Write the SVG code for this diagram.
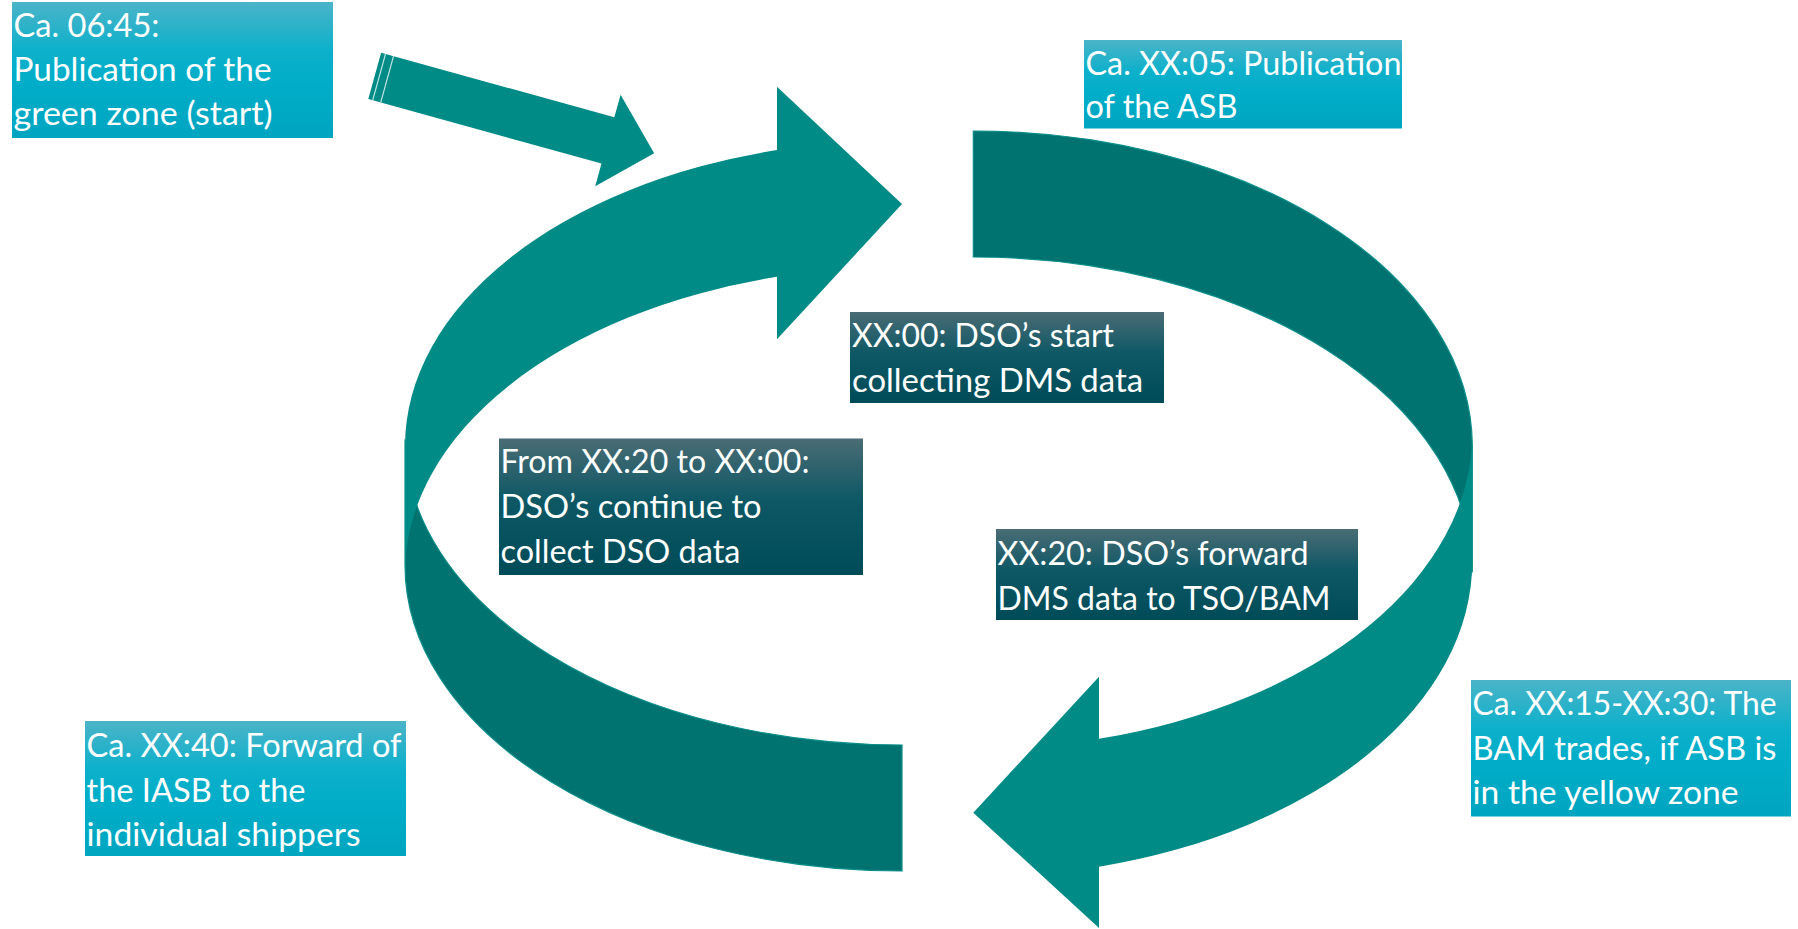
<svg xmlns="http://www.w3.org/2000/svg" width="1798" height="929" viewBox="0 0 1798 929">
  <defs>
    <linearGradient id="gCyan" x1="0" y1="0" x2="0" y2="1">
      <stop offset="0" stop-color="#4BB4C8"/>
      <stop offset="0.35" stop-color="#0EB0CB"/>
      <stop offset="0.6" stop-color="#00ADC8"/>
      <stop offset="1" stop-color="#00A5C0"/>
    </linearGradient>
    <linearGradient id="gDark" x1="0" y1="0" x2="0" y2="1">
      <stop offset="0" stop-color="#4A6C74"/>
      <stop offset="0.45" stop-color="#0E5866"/>
      <stop offset="1" stop-color="#004B58"/>
    </linearGradient>
    <style>
      .light { fill: #018B87; }
      .dark { fill: #00726F; stroke: #0A8E8A; stroke-width: 1.2; }
      .cyan { fill: url(#gCyan); }
      .slate { fill: url(#gDark); }
      .lbl { font-family: Lato, "Open Sans", "Liberation Sans", sans-serif; font-size: 33px; fill: #FFFFFF; }
      .gap { fill: #BFE6E4; }
    </style>
  </defs>

  <!-- cycle arrows and start arrow -->
  <g id="connectors">
    <!-- left half: dark back band, then light band with head pointing right -->
    <path class="dark" d="M405,439.2 A497,305.8 0 0 0 902,745 L902,871 A497,305.8 0 0 1 405,565.2 Z"/>
    <path class="light" d="M405,446 A497,305.8 0 0 1 777,150 L777,86.7 L902,204 L777,339.3 L777,276.8 A497,305.8 0 0 0 405,572.8 Z"/>
    <!-- right half: dark back band, then light band with head pointing left -->
    <path class="dark" d="M1472.3,572.6 A499,315.6 0 0 0 973.3,257 L973.3,131 A499,315.6 0 0 1 1472.3,446.6 Z"/>
    <path class="light" d="M1472.3,561.3 A499,315.6 0 0 1 1099,866.7 L1099,928 L973.3,812.7 L1099,676.7 L1099,738.8 A499,315.6 0 0 0 1472.3,433.4 Z"/>
    <!-- striped start arrow -->
    <g transform="translate(374.7,75.8) rotate(15.5)">
      <path class="light" d="M0,-24 L242,-24 L242,-47.5 L290,0 L242,47.5 L242,24 L0,24 Z"/>
      <rect class="gap" x="4" y="-24" width="1.2" height="48"/>
      <rect class="gap" x="12.3" y="-24" width="1.2" height="48"/>
    </g>
  </g>

  <g id="n-green-zone">
    <rect class="cyan" x="12" y="2" width="321" height="136"/>
    <text class="lbl" x="13.5" y="36.5" textLength="146" lengthAdjust="spacingAndGlyphs">Ca. 06:45:</text>
    <text class="lbl" x="13.5" y="80.8" textLength="258" lengthAdjust="spacingAndGlyphs">Publication of the</text>
    <text class="lbl" x="13.5" y="125" textLength="259" lengthAdjust="spacingAndGlyphs">green zone (start)</text>
  </g>

  <g id="n-asb">
    <rect class="cyan" x="1084" y="40" width="318" height="88.5"/>
    <text class="lbl" x="1085.5" y="74.7" textLength="316" lengthAdjust="spacingAndGlyphs">Ca. XX:05: Publication</text>
    <text class="lbl" x="1085.5" y="118.3" textLength="152" lengthAdjust="spacingAndGlyphs">of the ASB</text>
  </g>

  <g id="n-dso-start">
    <rect class="slate" x="850" y="312" width="314" height="91"/>
    <text class="lbl" x="852" y="347" textLength="262" lengthAdjust="spacingAndGlyphs">XX:00: DSO’s start</text>
    <text class="lbl" x="852" y="391.5" textLength="291" lengthAdjust="spacingAndGlyphs">collecting DMS data</text>
  </g>

  <g id="n-dso-continue">
    <rect class="slate" x="499" y="438.5" width="364" height="136.5"/>
    <text class="lbl" x="500.5" y="473.3" textLength="309" lengthAdjust="spacingAndGlyphs">From XX:20 to XX:00:</text>
    <text class="lbl" x="500.5" y="518.3" textLength="261" lengthAdjust="spacingAndGlyphs">DSO’s continue to</text>
    <text class="lbl" x="500.5" y="563" textLength="240" lengthAdjust="spacingAndGlyphs">collect DSO data</text>
  </g>

  <g id="n-dso-forward">
    <rect class="slate" x="996" y="529" width="362" height="91"/>
    <text class="lbl" x="997.5" y="565" textLength="311" lengthAdjust="spacingAndGlyphs">XX:20: DSO’s forward</text>
    <text class="lbl" x="997.5" y="609.5" textLength="333" lengthAdjust="spacingAndGlyphs">DMS data to TSO/BAM</text>
  </g>

  <g id="n-bam-trades">
    <rect class="cyan" x="1471" y="680" width="320" height="136.5"/>
    <text class="lbl" x="1472.5" y="715" textLength="304" lengthAdjust="spacingAndGlyphs">Ca. XX:15-XX:30: The</text>
    <text class="lbl" x="1472.5" y="759.5" textLength="304" lengthAdjust="spacingAndGlyphs">BAM trades, if ASB is</text>
    <text class="lbl" x="1472.5" y="804" textLength="266" lengthAdjust="spacingAndGlyphs">in the yellow zone</text>
  </g>

  <g id="n-iasb">
    <rect class="cyan" x="85" y="721" width="321" height="135"/>
    <text class="lbl" x="86.5" y="757" textLength="315" lengthAdjust="spacingAndGlyphs">Ca. XX:40: Forward of</text>
    <text class="lbl" x="86.5" y="801.5" textLength="219" lengthAdjust="spacingAndGlyphs">the IASB to the</text>
    <text class="lbl" x="86.5" y="845.5" textLength="274" lengthAdjust="spacingAndGlyphs">individual shippers</text>
  </g>
</svg>
